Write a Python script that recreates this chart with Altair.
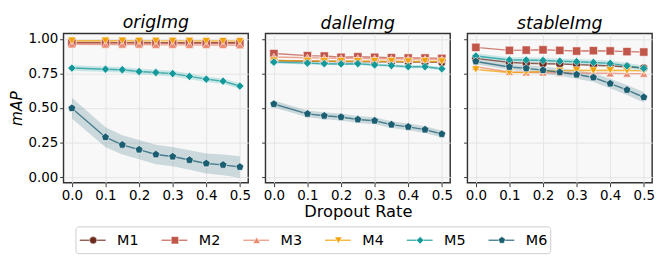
import altair as alt
import pandas as pd

panels = ["origImg", "dalleImg", "stableImg"]
models = ["M1", "M2", "M3", "M4", "M5", "M6"]
colors = ["#6b2c1f", "#c0574a", "#ea8a72", "#f2a104", "#13999a", "#1b5e72"]
pentagon = "M0,-1L0.951,-0.309L0.588,0.809L-0.588,0.809L-0.951,-0.309Z"
shapes = ["circle", "square", "triangle-up", "triangle-down", "diamond", pentagon]

dropout = [0.0, 0.1, 0.15, 0.2, 0.25, 0.3, 0.35, 0.4, 0.45, 0.5]
x_ticks = [0.0, 0.1, 0.2, 0.3, 0.4, 0.5]
y_ticks = [0.0, 0.25, 0.5, 0.75, 1.0]

# origImg
orig_M1 = [0.975, 0.975, 0.974, 0.975, 0.974, 0.974, 0.973, 0.974, 0.973, 0.973]
orig_M2 = [0.972, 0.972, 0.971, 0.971, 0.970, 0.970, 0.970, 0.970, 0.969, 0.969]
orig_M3 = [0.962, 0.960, 0.960, 0.960, 0.958, 0.958, 0.958, 0.957, 0.957, 0.955]
orig_M4 = [0.988, 0.988, 0.988, 0.987, 0.987, 0.987, 0.987, 0.986, 0.986, 0.985]
orig_M5 = [0.790, 0.782, 0.778, 0.765, 0.758, 0.750, 0.730, 0.710, 0.695, 0.660]
orig_M6 = [0.500, 0.290, 0.235, 0.200, 0.165, 0.150, 0.125, 0.100, 0.090, 0.075]
# dalleImg
dalle_M1 = [0.845, 0.840, 0.840, 0.838, 0.838, 0.836, 0.835, 0.834, 0.833, 0.832]
dalle_M2 = [0.895, 0.880, 0.877, 0.868, 0.872, 0.868, 0.865, 0.863, 0.863, 0.860]
dalle_M3 = [0.870, 0.865, 0.862, 0.860, 0.860, 0.858, 0.857, 0.855, 0.855, 0.853]
dalle_M4 = [0.845, 0.842, 0.840, 0.840, 0.840, 0.840, 0.840, 0.838, 0.840, 0.838]
dalle_M5 = [0.833, 0.826, 0.822, 0.820, 0.822, 0.813, 0.808, 0.800, 0.800, 0.785]
dalle_M6 = [0.530, 0.459, 0.445, 0.436, 0.418, 0.409, 0.381, 0.365, 0.345, 0.313]
# stableImg
stable_M1 = [0.860, 0.830, 0.825, 0.822, 0.820, 0.815, 0.810, 0.805, 0.800, 0.790]
stable_M2 = [0.940, 0.918, 0.920, 0.922, 0.918, 0.913, 0.916, 0.914, 0.909, 0.906]
stable_M3 = [0.800, 0.762, 0.758, 0.758, 0.755, 0.755, 0.752, 0.752, 0.750, 0.750]
stable_M4 = [0.780, 0.758, 0.760, 0.765, 0.770, 0.774, 0.772, 0.775, 0.772, 0.770]
stable_M5 = [0.877, 0.849, 0.848, 0.845, 0.840, 0.836, 0.831, 0.824, 0.806, 0.788]
stable_M6 = [0.838, 0.798, 0.788, 0.775, 0.760, 0.743, 0.722, 0.678, 0.632, 0.579]

# half-widths of shaded bands
orig_M5_err = [0.02, 0.02, 0.02, 0.02, 0.02, 0.02, 0.02, 0.02, 0.02, 0.02]
orig_M6_err = [0.075, 0.072, 0.07, 0.07, 0.07, 0.07, 0.07, 0.072, 0.075, 0.078]
dalle_M5_err = [0.01, 0.01, 0.01, 0.01, 0.01, 0.01, 0.01, 0.012, 0.012, 0.012]
dalle_M6_err = [0.025, 0.025, 0.025, 0.025, 0.025, 0.025, 0.025, 0.025, 0.025, 0.025]
stable_M5_err = [0.02, 0.02, 0.02, 0.02, 0.02, 0.02, 0.02, 0.02, 0.02, 0.02]
stable_M6_err = [0.02, 0.022, 0.024, 0.026, 0.028, 0.03, 0.032, 0.034, 0.036, 0.038]

series = {
    "origImg": [orig_M1, orig_M2, orig_M3, orig_M4, orig_M5, orig_M6],
    "dalleImg": [dalle_M1, dalle_M2, dalle_M3, dalle_M4, dalle_M5, dalle_M6],
    "stableImg": [stable_M1, stable_M2, stable_M3, stable_M4, stable_M5, stable_M6],
}
errors = {
    "origImg": {"M5": orig_M5_err, "M6": orig_M6_err},
    "dalleImg": {"M5": dalle_M5_err, "M6": dalle_M6_err},
    "stableImg": {"M5": stable_M5_err, "M6": stable_M6_err},
}

rows = []
for p in panels:
    for m, vals in zip(models, series[p]):
        err = errors[p].get(m)
        for i, (xv, yv) in enumerate(zip(dropout, vals)):
            e = err[i] if err else 0.0
            rows.append({"panel": p, "model": m, "x": xv, "y": yv,
                         "lo": yv - e, "hi": yv + e, "band": err is not None})
df = pd.DataFrame(rows)

FONT = "DejaVu Sans"
color_scale = alt.Scale(domain=models, range=colors)
shape_scale = alt.Scale(domain=models, range=shapes)


def panel_chart(i, p):
    base = alt.Chart(df).transform_filter(alt.datum.panel == p)
    xscale = alt.Scale(domain=[-0.025, 0.525], nice=False, zero=False)
    yscale = alt.Scale(domain=[-0.04, 1.04], nice=False)
    xaxis = alt.Axis(values=x_ticks, format=".1f", labelOverlap=False,
                     title="Dropout Rate" if i == 1 else None)
    yaxis = alt.Axis(values=y_ticks, format=".2f", labels=(i == 0),
                     labelOverlap=False, title="mAP" if i == 0 else None)
    x = alt.X("x:Q", scale=xscale, axis=xaxis)
    y = alt.Y("y:Q", scale=yscale, axis=yaxis)
    band = base.transform_filter(alt.datum.band).mark_area(opacity=0.2).encode(
        x=x, y=alt.Y("lo:Q", scale=yscale, axis=yaxis), y2="hi:Q",
        color=alt.Color("model:N", scale=color_scale, legend=None),
        detail="model:N")
    line = base.mark_line(strokeWidth=1.5, opacity=0.75).encode(
        x=x, y=y, color=alt.Color("model:N", scale=color_scale, legend=None),
        detail="model:N")
    pts = base.mark_point(filled=True, size=75, stroke="white", strokeWidth=0.6,
                          opacity=1).encode(
        x=x, y=y,
        fill=alt.Fill("model:N", scale=color_scale, legend=None),
        shape=alt.Shape("model:N", scale=shape_scale, legend=None))
    return alt.layer(band, line, pts).properties(
        width=193, height=156,
        title=alt.TitleParams(p, fontStyle="italic", fontSize=18, font=FONT,
                              fontWeight="normal", offset=1))


top = alt.hconcat(*[panel_chart(i, p) for i, p in enumerate(panels)], spacing=8)

leg_df = pd.DataFrame({"model": models, "i": list(range(len(models)))})
lx = alt.X("i:Q", scale=alt.Scale(domain=[0, 5], range=[31, 458]), axis=None)
ly = alt.value(14)
leg_base = alt.Chart(leg_df)
box = alt.Chart(pd.DataFrame({"a": [0]})).mark_rect(
    fill="white", stroke="#cccccc", strokeWidth=1, cornerRadius=3).encode(
    x=alt.value(13), x2=alt.value(509), y=alt.value(0), y2=alt.value(28))
leg_line = leg_base.mark_rule(strokeWidth=1.5, opacity=0.75, xOffset=-14, x2Offset=13).encode(
    x=lx, x2="i:Q", y=ly,
    color=alt.Color("model:N", scale=color_scale, legend=None))
leg_pts = leg_base.mark_point(filled=True, size=60, stroke="white", strokeWidth=0.6,
                              opacity=1).encode(
    x=lx, y=ly,
    fill=alt.Fill("model:N", scale=color_scale, legend=None),
    shape=alt.Shape("model:N", scale=shape_scale, legend=None))
leg_txt = leg_base.mark_text(align="left", baseline="middle", dx=25, fontSize=15,
                             font=FONT, color="black").encode(
    x=lx, y=ly, text="model:N")
legend = alt.layer(box, leg_line, leg_pts, leg_txt).properties(
    width=600, height=29,
    view=alt.ViewBackground(stroke="transparent", fill="transparent"))

chart = alt.vconcat(top, legend, spacing=5).properties(padding=0).configure_view(
    stroke="#333333", strokeWidth=1.5, fill="#f8f8f8"
).configure_axis(
    labelFont=FONT, titleFont=FONT, labelFontSize=14, titleFontSize=17,
    titleFontWeight="normal", labelColor="black", titleColor="black",
    grid=True, gridColor="#e4e4e4", gridWidth=1, domain=False,
    tickColor="#333333", tickSize=4, labelPadding=2
).configure_axisY(
    titleFontStyle="italic", titleFontSize=16, labelFontSize=14, titlePadding=4
).configure_axisX(titlePadding=2)

chart.save("out.html", embed_options={"renderer": "svg", "actions": False})
